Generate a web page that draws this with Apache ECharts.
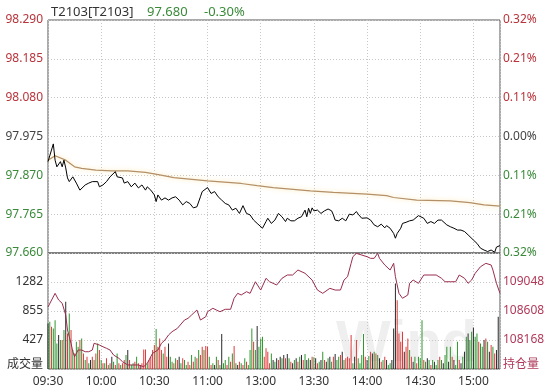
<!DOCTYPE html>
<html><head><meta charset="utf-8">
<script src="https://cdn.jsdelivr.net/npm/echarts@6/dist/echarts.min.js"></script>
<style>html,body{margin:0;padding:0;background:#fff}#c{width:552px;height:390px}</style>
</head><body><div id="c"></div>
<script>
// ---- data ----
const symbolName = 'T2103[T2103]';
const lastPrice = '97.680';
const lastChange = '-0.30%';
const prevSettle = 97.975;
const tickLabels = ['09:30','10:00','10:30','11:00','13:00','13:30','14:00','14:30','15:00']; // every 30 trading minutes
// [trading-minute index, price]
const pricePoints = [[0,97.907],[3,97.955],[4,97.911],[5,97.893],[7,97.907],[8,97.893],[9,97.911],[10,97.890],[11,97.863],[12,97.853],[14,97.866],[16,97.849],[18,97.830],[19,97.826],[21,97.844],[23,97.849],[25,97.853],[26,97.857],[28,97.853],[29,97.839],[31,97.844],[33,97.853],[35,97.866],[38,97.880],[39,97.866],[42,97.863],[43,97.849],[45,97.853],[47,97.839],[49,97.849],[51,97.836],[53,97.844],[55,97.830],[56,97.839],[58,97.830],[60,97.817],[61,97.799],[62,97.817],
[64,97.803],[66,97.809],[68,97.803],[70,97.809],[72,97.812],[74,97.803],[76,97.790],[78,97.799],[80,97.794],[82,97.782],[84,97.785],[85,97.790],[86,97.812],[87,97.826],[90,97.837],[92,97.821],[94,97.826],[96,97.812],[98,97.803],[100,97.794],[102,97.790],[103,97.794],[104,97.776],[106,97.781],[108,97.767],[110,97.788],[112,97.767],[114,97.763],[116,97.749],[118,97.740],[121,97.727],[123,97.745],[124,97.754],[126,97.740],
[128,97.749],[130,97.767],[132,97.758],[134,97.745],[135,97.754],[137,97.747],[139,97.747],[141,97.754],[143,97.758],[145,97.776],[146,97.758],[147,97.781],[148,97.767],[149,97.782],[150,97.774],[152,97.776],[154,97.767],[156,97.774],[158,97.779],[160,97.774],[161,97.763],[162,97.749],[164,97.747],[166,97.754],[168,97.747],[170,97.765],[172,97.763],[174,97.772],[175,97.765],[177,97.754],[178,97.758],[180,97.755],[182,97.749],[184,97.736],[186,97.731],[188,97.738],[190,97.728],
[191,97.734],[193,97.727],[195,97.713],[196,97.700],[197,97.713],[199,97.727],[200,97.740],[202,97.743],[204,97.747],[206,97.749],[207,97.752],[209,97.761],[210,97.763],[212,97.754],[214,97.740],[216,97.745],[218,97.740],[220,97.749],[222,97.749],[223,97.752],[225,97.736],[227,97.731],[229,97.727],[231,97.722],[233,97.722],[235,97.718],[237,97.709],[238,97.704],[240,97.695],[242,97.686],[244,97.673],[246,97.668],[248,97.664],[250,97.668],[252,97.662],[253,97.676],[255,97.680]];
const avgPoints = [[0,97.911],[4,97.923],[10,97.911],[15,97.893],[19,97.889],[27,97.884],[36,97.882],[45,97.882],[55,97.878],[63,97.871],[71,97.864],[90,97.855],[109,97.848],[118,97.842],[127,97.837],[148,97.828],[161,97.824],[180,97.819],[191,97.815],[195,97.810],[208,97.803],[227,97.801],[238,97.796],[246,97.790],[255,97.787]];
const oiPoints = [[0,108669],[1,108699],[4,108876],[6,108775],[8,108725],[10,108547],[11,108320],[12,108218],[13,108118],[14,107990],[15,107915],[17,108016],[19,108016],[21,107990],[23,107990],[25,108016],[26,108118],[27,108142],[29,108092],[31,108066],[33,108042],[35,108016],[37,107940],[40,107890],[42,107839],[45,107789],[48,107789],[51,107789],[54,107763],[56,107814],[58,107915],[59,107966],[62,108016],[64,108118],[66,108168],[68,108244],[70,108294],[73,108345],[74,108345],[77,108471],[79,108497],[81,108547],[84,108623],[86,108471],[89,108521],[90,108597],[93,108649],[95,108623],[97,108597],[100,108634],[103,108634],[105,108801],[107,108876],[109,108851],[112,108901],[114,108876],[117,109052],[120,108926],[123,109104],[125,109052],[127,109028],
[129,109002],[132,109104],[135,109154],[138,109154],[141,109230],[145,109180],[149,109078],[152,108926],[155,108876],[156,108876],[159,108952],[162,108926],[165,108926],[167,109078],[169,109128],[171,109331],[172,109432],[174,109483],[177,109457],[180,109432],[182,109407],[184,109407],[186,109483],[187,109407],[190,109306],[193,109230],[194,109256],[195,109331],[196,109128],[198,108876],[200,108801],[201,108825],[203,108851],[204,109028],[206,109078],[209,109028],[212,109154],[215,109154],[219,109154],[222,109104],[224,109052],[227,109052],[230,109052],[232,109154],[235,109104],[237,109028],[239,109078],[241,109180],[244,109280],[247,109331],[250,109306],[251,109230],[253,109028],[255,108876]];
// per-minute volume (index = trading minute)
const volume = [671,696,622,598,720,377,500,426,426,573,
990,524,818,573,279,230,402,328,426,451,
230,132,181,83,132,181,132,230,377,279,
132,83,83,157,59,83,181,108,59,230,
83,59,83,132,206,279,132,59,83,108,
181,83,59,83,289,289,83,132,181,279,
353,588,328,451,279,230,328,181,377,181,
108,83,157,132,181,83,157,132,59,108,
59,206,108,181,157,279,206,328,279,338,
328,181,59,83,59,181,132,59,515,83,
132,59,181,108,230,338,83,59,108,83,
59,157,108,59,279,598,402,279,632,328,
451,475,181,304,255,83,230,132,108,157,
132,181,157,206,157,220,157,108,83,132,
157,108,181,206,132,220,132,157,132,181,
172,157,83,108,132,255,132,108,157,181,
108,181,220,132,181,206,255,132,157,181,
157,500,83,181,426,157,83,206,515,181,
132,191,255,230,255,230,206,157,108,132,
181,132,59,83,132,598,1259,1014,524,402,
549,255,328,451,279,181,108,181,83,181,
157,720,132,108,157,132,59,132,108,59,
132,181,132,83,206,328,108,328,181,132,
59,402,132,83,181,255,475,524,426,549,
613,475,524,402,377,328,426,451,402,255,
353,328,230,279,770,0];
// u = price up, d = price down, f = flat
const volDir = ['fdudddfdud','fudududdud','ududfududu','dududufdud','uduudfuddu','dufuuuduuu','uduuuduufd','dudufduddu','udududuudu','ududfdudfd','dudududfud','ududddudfd','dduuuudfdf','ufdfufdufd','fudfudfdfu','dfudfdufdf','dufddufduu','uudfuddddu','fdufdudfud','ufddfffuuu','ufuudufdud','ddudfdudfd','dudfddfduf','ddufdfdfdd','fdduddfudf','udufff'].join('');

// ---- chart ----
const FONT = '"Noto Sans","Noto Sans CJK SC",sans-serif';
const RED = '#b8333a', GREEN = '#3a8a3a', GREY = '#444';
const OICOL = '#b03a5a';
const dotted = {show:true, lineStyle:{color:'#c8c8c8', type:[1,2], width:1}};
const pMin = 97.660, pMax = 98.290, pInt = 0.105;
const vMax = 1709.333, vInt = 427.333;
const oMin = 107728, oMax = 109488, oInt = 440;

const chart = echarts.init(document.getElementById('c'), null, {renderer:'canvas'});
chart.setOption({
  animation:false,
  textStyle:{fontFamily:FONT},
  title:{
    left:46, top:1,
    text:'{a|'+symbolName+'}{b|'+lastPrice+'}{c|'+lastChange+'}',
    textStyle:{fontWeight:'normal', rich:{
      a:{fontSize:13, color:'#333', width:96, fontWeight:'normal', fontFamily:FONT},
      b:{fontSize:13, color:GREEN, width:57, fontWeight:'normal', fontFamily:FONT},
      c:{fontSize:13, color:GREEN, fontWeight:'normal', fontFamily:FONT}
    }}
  },
  graphic:[{type:'text', left:336, top:316, z:-10, silent:true,
    style:{text:'Wind', fontSize:58, fontWeight:'bold', fontFamily:'"Liberation Sans",sans-serif', fill:'rgba(205,205,205,0.32)'}}],
  grid:[
    {left:48, right:52, top:20, height:233, show:true, borderColor:'#555', borderWidth:1},
    {left:48, right:52, top:253, height:116, show:true, borderColor:'#555', borderWidth:1}
  ],
  xAxis:[
    {gridIndex:0, type:'value', min:0, max:255, interval:30,
     axisLine:{show:false}, axisTick:{show:false}, axisLabel:{show:false}, splitLine:dotted},
    {gridIndex:1, type:'value', min:0, max:255, interval:30,
     axisLine:{show:false}, axisTick:{show:false}, splitLine:dotted,
     axisLabel:{fontSize:12, color:'#333', margin:7, fontFamily:FONT,
       formatter:v => (v % 30 === 0 && tickLabels[v/30]) ? tickLabels[v/30] : ''}}
  ],
  yAxis:[
    {gridIndex:0, type:'value', min:pMin, max:pMax, interval:pInt,
     axisLine:{show:false}, axisTick:{show:false}, splitLine:dotted,
     axisLabel:{fontSize:12, margin:5, fontFamily:FONT,
       formatter:v => v.toFixed(3),
       color:v => (Math.abs(v-prevSettle)<1e-6 ? GREY : (v>prevSettle ? RED : GREEN))}},
    {gridIndex:0, type:'value', position:'right', min:pMin, max:pMax, interval:pInt,
     axisLine:{show:false}, axisTick:{show:false}, splitLine:{show:false},
     axisLabel:{fontSize:12, margin:3, fontFamily:FONT,
       formatter:v => Math.abs((v-prevSettle)/prevSettle*100).toFixed(2)+'%',
       color:v => (Math.abs(v-prevSettle)<1e-6 ? GREY : (v>prevSettle ? RED : GREEN))}},
    {gridIndex:1, type:'value', min:0, max:vMax, interval:vInt,
     axisLine:{show:false}, axisTick:{show:false}, splitLine:dotted,
     axisLabel:{fontSize:12, margin:5, color:'#333', fontFamily:FONT,
       formatter:v => v < 1 ? '{u|成交量}' : (v > vMax-1 ? '' : String(Math.round(v))),
       rich:{u:{fontSize:12, color:'#333', padding:[0,0,8,0], fontFamily:FONT}}}},
    {gridIndex:1, type:'value', position:'right', min:oMin, max:oMax, interval:oInt,
     axisLine:{show:false}, axisTick:{show:false}, splitLine:{show:false},
     axisLabel:{fontSize:12, margin:3, color:OICOL, fontFamily:FONT,
       formatter:v => v <= oMin+1 ? '{u|持仓量}' : (v >= oMax-1 ? '' : String(Math.round(v))),
       rich:{u:{fontSize:12, color:OICOL, padding:[0,0,8,0], fontFamily:FONT}}}}
  ],
  series:[
    {type:'bar', xAxisIndex:1, yAxisIndex:2, barWidth:1, z:2,
     data: volume.map((v,i)=>[i,v]),
     itemStyle:{color:p => { const d = volDir[p.dataIndex]; return d==='u' ? '#dd3b3b' : (d==='d' ? '#2f962f' : '#2a2a2a'); }}},
    {type:'line', xAxisIndex:0, yAxisIndex:0, data:avgPoints, symbol:'none', z:3,
     lineStyle:{color:'#b39068', width:1.2, shadowColor:'rgba(255,215,120,0.7)', shadowBlur:4}},
    {type:'line', xAxisIndex:0, yAxisIndex:0, data:pricePoints, symbol:'none', z:4,
     lineStyle:{color:'#000', width:1}},
    {type:'line', xAxisIndex:1, yAxisIndex:3, data:oiPoints, symbol:'none', z:5,
     lineStyle:{color:'#9a2d4d', width:1}}
  ]
});
</script></body></html>
